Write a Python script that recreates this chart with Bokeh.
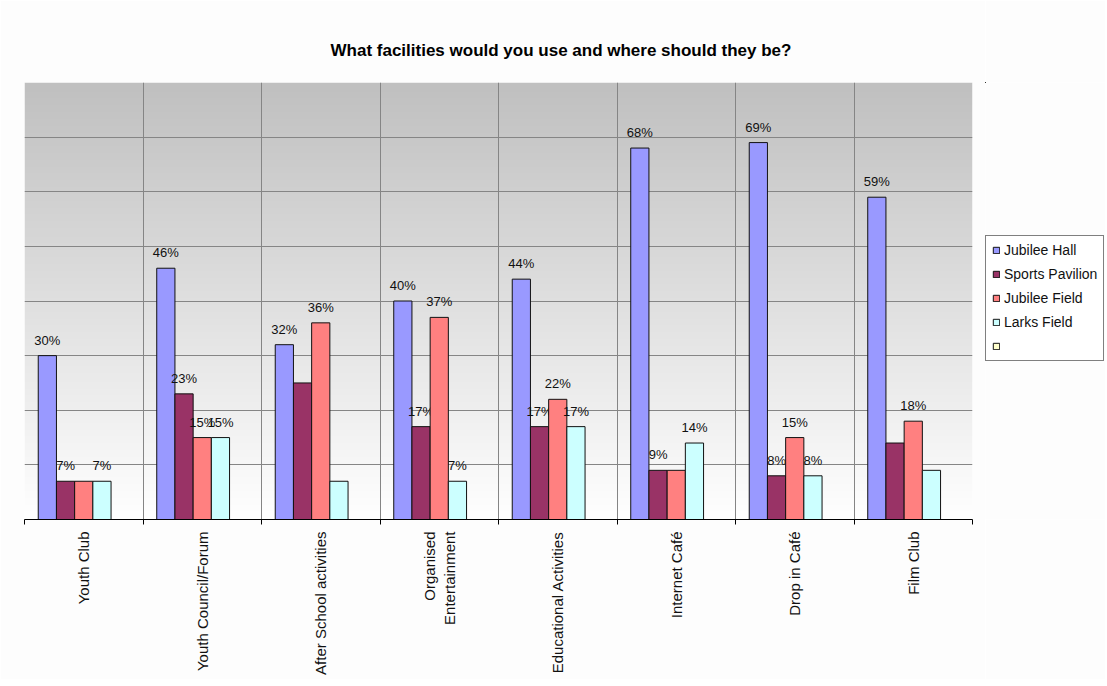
import math
import numpy as np
from bokeh.plotting import figure
from bokeh.layouts import row
from bokeh.models import Range1d, FixedTicker, Legend
from bokeh.core.properties import value
from bokeh.embed import file_html
from bokeh.resources import INLINE

categories = ["Youth Club", "Youth Council/Forum", "After School activities",
              "Organised\nEntertainment", "Educational Activities", "Internet Café",
              "Drop in Café", "Film Club"]
series_names = ["Jubilee Hall", "Sports Pavilion", "Jubilee Field", "Larks Field", " "]
jubilee_hall = [30, 46, 32, 40, 44, 68, 69, 59]
sports_pavilion = [7, 23, 25, 17, 17, 9, 8, 14]
jubilee_field = [7, 15, 36, 37, 22, 9, 15, 18]
larks_field = [7, 15, 7, 7, 17, 14, 8, 9]
fifth_series = [None] * 8  # empty series shown only in the legend
# which data labels are visible in the original
jh_shown = [1, 1, 1, 1, 1, 1, 1, 1]
sp_shown = [1, 1, 0, 1, 1, 1, 1, 0]
jf_shown = [0, 1, 1, 1, 1, 0, 1, 1]
lf_shown = [1, 1, 0, 1, 1, 1, 1, 0]
no_shown = [0] * 8
colors = ["#9999FF", "#993366", "#FF8080", "#CCFFFF", "#FFFFCC"]

FONT = "Liberation Sans"
BG = "#FDFDFD"

p = figure(frame_width=948, frame_height=437, output_backend="svg", toolbar_location=None,
           x_range=Range1d(0, 8), y_range=Range1d(0, 80),
           min_border_left=24, min_border_right=13, min_border_top=82,
           min_border_bottom=160)
p.background_fill_color = BG
p.border_fill_color = BG
p.outline_line_color = None

# gradient plot background (grey at top to white at bottom)
n = 256
t = np.linspace(0, 1, n)
g = (255 - (255 - 192) * t).astype(np.uint8)
img = np.zeros((n, 1), dtype=np.uint32)
view = img.view(dtype=np.uint8).reshape((n, 1, 4))
view[:, 0, 0] = g
view[:, 0, 1] = g
view[:, 0, 2] = g
view[:, 0, 3] = 255
p.image_rgba(image=[img], x=0, y=0, dw=8, dh=80, level="image")

# legend lives in a narrow companion figure to the right
lf = figure(width=120, height=679, output_backend="svg", toolbar_location=None,
            x_range=Range1d(500, 501), y_range=Range1d(-500, -499), min_border=0)
lf.axis.visible = False
lf.grid.visible = False
lf.outline_line_color = None
lf.background_fill_color = BG
lf.border_fill_color = BG

ncat = len(categories)
bw = 0.1536
gap = (1 - 5 * bw) / 2
all_series = [jubilee_hall, sports_pavilion, jubilee_field, larks_field, fifth_series]
shown = [jh_shown, sp_shown, jf_shown, lf_shown, no_shown]
items = []
for j, vals in enumerate(all_series):
    xs = [i + gap + bw * (j + 0.5) for i in range(len(vals))]
    tops = [float("nan") if v is None else v for v in vals]
    p.vbar(x=xs, top=tops, width=bw, fill_color=colors[j], line_color="#111111",
           line_width=1)
    # same series in the legend figure (far outside its visible range)
    lr = lf.vbar(x=xs, top=[0 if v is None else v for v in vals], width=bw,
                 fill_color=colors[j], line_color="#111111", line_width=1)
    items.append((series_names[j], [lr]))
    lx = [x for x, s in zip(xs, shown[j]) if s]
    ly = [v for v, s in zip(vals, shown[j]) if s]
    lt = ["%d%%" % v for v, s in zip(vals, shown[j]) if s]
    if lx:
        p.text(x=lx, y=ly, text=lt, text_align="center", text_baseline="bottom",
               y_offset=-8, text_font=value(FONT), text_font_size="13px",
               text_color="#111111")

# grids
p.ygrid.ticker = FixedTicker(ticks=list(range(0, 81, 10)))
p.ygrid.grid_line_color = "#858585"
p.xgrid.ticker = FixedTicker(ticks=list(range(0, 9)))
p.xgrid.grid_line_color = "#858585"

p.yaxis.visible = False

ax = p.xaxis[0]
ax.ticker = FixedTicker(ticks=[i + 0.5 for i in range(ncat)],
                        minor_ticks=list(range(0, ncat + 1)))
ax.major_label_overrides = {i + 0.5: c for i, c in enumerate(categories)}
ax.major_label_orientation = math.pi / 2
ax.major_tick_out = 0
ax.major_tick_in = 0
ax.minor_tick_out = 5
ax.minor_tick_in = 0
ax.minor_tick_line_color = "black"
ax.axis_line_color = "black"
ax.major_label_standoff = 7
ax.major_label_text_font = FONT
ax.major_label_text_font_size = "15px"
ax.major_label_text_color = "#111111"

p.title.text = "What facilities would you use and where should they be?"
p.title.align = "left"
p.title.offset = 306
p.title.text_font = FONT
p.title.text_font_size = "17px"
p.title.text_font_style = "bold"
p.title.text_color = "black"
try:
    p.title.standoff = 46
except Exception:
    pass

legend = Legend(items=items, location=(0, 158))
legend.padding = 6
legend.spacing = 8
legend.glyph_width = 8
legend.glyph_height = 8
legend.label_height = 16
legend.label_standoff = 4
legend.label_text_font = FONT
legend.label_text_font_size = "14px"
legend.label_text_color = "#111111"
legend.border_line_color = "black"
legend.border_line_width = 1
legend.background_fill_color = "white"
lf.add_layout(legend)

layout = row(p, lf, spacing=0)
open("out.html", "w").write(file_html(layout, INLINE))
